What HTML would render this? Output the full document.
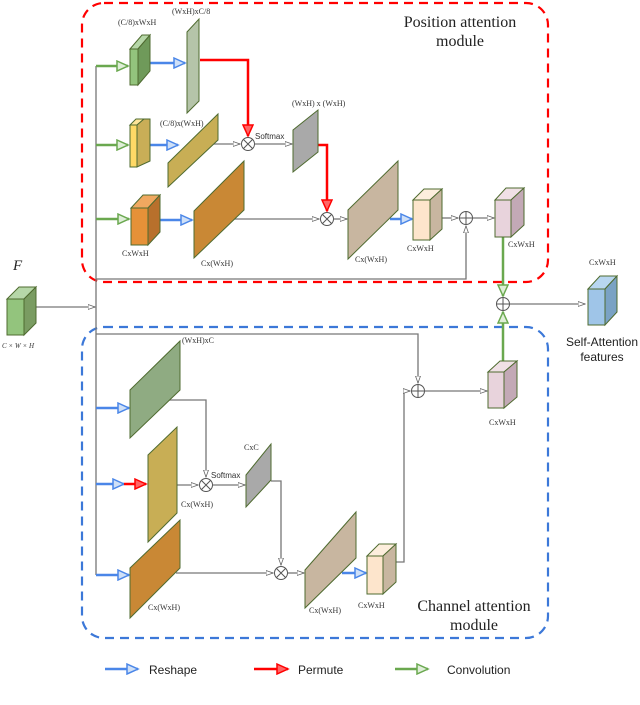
<!DOCTYPE html>
<html><head><meta charset="utf-8"><style>
html,body{margin:0;padding:0;background:#fff;}
svg{display:block;}
.s{font-family:"Liberation Serif",serif;font-size:8px;fill:#333;}
.t{font-family:"Liberation Serif",serif;font-size:16px;fill:#222;}
.a{font-family:"Liberation Sans",sans-serif;}
</style></head><body>
<svg width="640" height="705" viewBox="0 0 640 705" xmlns="http://www.w3.org/2000/svg">
<defs>
<marker id="g" markerWidth="8" markerHeight="6" refX="7" refY="3" orient="auto" markerUnits="userSpaceOnUse"><path d="M0,0.5 L7,3 L0,5.5 Z" fill="#fff" stroke="#666" stroke-width="0.8"/></marker>
<marker id="b" markerWidth="14" markerHeight="12" refX="12" refY="6" orient="auto" markerUnits="userSpaceOnUse"><path d="M1,1 L12,6 L1,11 Z" fill="#cfe0f7" stroke="#4a86e8" stroke-width="1.5"/></marker>
<marker id="r" markerWidth="14" markerHeight="12" refX="12" refY="6" orient="auto" markerUnits="userSpaceOnUse"><path d="M1,1 L12,6 L1,11 Z" fill="#f66" stroke="#f00" stroke-width="1.5"/></marker>
<marker id="gr" markerWidth="14" markerHeight="12" refX="12" refY="6" orient="auto" markerUnits="userSpaceOnUse"><path d="M1,1 L12,6 L1,11 Z" fill="#dfeed8" stroke="#6aa84f" stroke-width="1.5"/></marker>
</defs>

<rect x="82" y="3" width="466" height="279" rx="22" fill="none" stroke="#f00" stroke-width="2.2" stroke-dasharray="9,6"/>
<rect x="82" y="327" width="466" height="311" rx="22" fill="none" stroke="#3c78d8" stroke-width="2.2" stroke-dasharray="9,6"/>

<g stroke="#777" stroke-width="1.3" fill="none">
<line x1="96" y1="66" x2="96" y2="575"/>
<line x1="36" y1="307" x2="95" y2="307" marker-end="url(#g)"/>
<polyline points="96,279 466,279 466,226" marker-end="url(#g)"/>
<polyline points="96,334 418,334 418,383" marker-end="url(#g)"/>
<line x1="213" y1="144" x2="240" y2="144" marker-end="url(#g)"/>
<line x1="255" y1="144" x2="292" y2="144" marker-end="url(#g)"/>
<line x1="234" y1="219" x2="319" y2="219" marker-end="url(#g)"/>
<line x1="334" y1="219" x2="347" y2="219" marker-end="url(#g)"/>
<line x1="442" y1="218" x2="458" y2="218" marker-end="url(#g)"/>
<line x1="473" y1="218" x2="494" y2="218" marker-end="url(#g)"/>
<line x1="510" y1="304" x2="585" y2="304" marker-end="url(#g)"/>
<polyline points="167,400 206,400 206,477" marker-end="url(#g)"/>
<line x1="177" y1="485" x2="198" y2="485" marker-end="url(#g)"/>
<line x1="213" y1="485" x2="245" y2="485" marker-end="url(#g)"/>
<polyline points="271,481 281,481 281,565" marker-end="url(#g)"/>
<line x1="176" y1="573" x2="273" y2="573" marker-end="url(#g)"/>
<line x1="288" y1="573" x2="304" y2="573" marker-end="url(#g)"/>
<polyline points="396,562 404,562 404,391 410,391" marker-end="url(#g)"/>
<line x1="425" y1="391" x2="487" y2="391" marker-end="url(#g)"/>
</g>

<g stroke-width="2.5" fill="none">
<line x1="96" y1="66" x2="128" y2="66" stroke="#6aa84f" marker-end="url(#gr)"/>
<line x1="96" y1="145" x2="128" y2="145" stroke="#6aa84f" marker-end="url(#gr)"/>
<line x1="96" y1="219" x2="129" y2="219" stroke="#6aa84f" marker-end="url(#gr)"/>
<line x1="150" y1="63" x2="185" y2="63" stroke="#4a86e8" marker-end="url(#b)"/>
<line x1="150" y1="145" x2="178" y2="145" stroke="#4a86e8" marker-end="url(#b)"/>
<line x1="160" y1="220" x2="192" y2="220" stroke="#4a86e8" marker-end="url(#b)"/>
<line x1="390" y1="219" x2="412" y2="219" stroke="#4a86e8" marker-end="url(#b)"/>
<polyline points="200,60 248,60 248,136" stroke="#f00" marker-end="url(#r)"/>
<polyline points="318,145 327,145 327,211" stroke="#f00" marker-end="url(#r)"/>
<line x1="503" y1="237" x2="503" y2="296" stroke="#6aa84f" marker-end="url(#gr)"/>
<line x1="503" y1="361" x2="503" y2="312" stroke="#6aa84f" marker-end="url(#gr)"/>
<line x1="96" y1="408" x2="129" y2="408" stroke="#4a86e8" marker-end="url(#b)"/>
<line x1="96" y1="484" x2="124" y2="484" stroke="#4a86e8" marker-end="url(#b)"/>
<line x1="124" y1="484" x2="146" y2="484" stroke="#f00" marker-end="url(#r)"/>
<line x1="96" y1="575" x2="129" y2="575" stroke="#4a86e8" marker-end="url(#b)"/>
<line x1="342" y1="573" x2="366" y2="573" stroke="#4a86e8" marker-end="url(#b)"/>
<line x1="105" y1="669" x2="138" y2="669" stroke="#4a86e8" marker-end="url(#b)"/>
<line x1="254" y1="669" x2="288" y2="669" stroke="#f00" marker-end="url(#r)"/>
<line x1="395" y1="669" x2="428" y2="669" stroke="#6aa84f" marker-end="url(#gr)"/>
</g>

<g stroke="#4f6b30" stroke-width="1">
<polygon points="7,299 19,287 36,287 24,299" fill="#b6d7a8"/><polygon points="24,299 36,287 36,323 24,335" fill="#7a9c62"/><rect x="7" y="299" width="17" height="36" fill="#93c47d"/>
<polygon points="130,49 142,35 150,35 138,49" fill="#b6d7a8"/><polygon points="138,49 150,35 150,71 138,85" fill="#6f9a5a"/><rect x="130" y="49" width="8" height="36" fill="#93c47d"/>
<polygon points="130,125 136,119 144,119 137,125" fill="#ffe599"/><polygon points="137,125 144,119 150,119 150,161 137,167" fill="#c9ae57"/><rect x="130" y="125" width="7" height="42" fill="#ffd966"/>
<polygon points="131,208 143,195 160,195 148,208" fill="#f0a860"/><polygon points="148,208 160,195 160,232 148,245" fill="#b8702c"/><rect x="131" y="208" width="17" height="37" fill="#e69138"/>
<polygon points="413,200 424,189 442,189 430,200" fill="#fdeedd"/><polygon points="430,200 442,189 442,229 430,240" fill="#c8b6a0"/><rect x="413" y="200" width="17" height="40" fill="#fde5cc"/>
<polygon points="495,200 506,188 524,188 511,200" fill="#f0e0e6"/><polygon points="511,200 524,188 524,225 511,237" fill="#c3a9b6"/><rect x="495" y="200" width="16" height="37" fill="#e8d3dc"/>
<polygon points="588,289 600,276 617,276 605,289" fill="#b8d6f0"/><polygon points="605,289 617,276 617,312 605,325" fill="#7aa2c4"/><rect x="588" y="289" width="17" height="36" fill="#9fc5e8"/>
<polygon points="367,556 379,544 396,544 383,556" fill="#fdeedd"/><polygon points="383,556 396,544 396,582 383,594" fill="#c8b6a0"/><rect x="367" y="556" width="16" height="38" fill="#fde5cc"/>
<polygon points="488,372 500,361 517,361 504,372" fill="#f0e0e6"/><polygon points="504,372 517,361 517,397 504,408" fill="#c3a9b6"/><rect x="488" y="372" width="16" height="36" fill="#e8d3dc"/>

<polygon points="187,32 199,19 199,101 187,113" fill="#b5c4a9"/>
<polygon points="168,163 218,114 218,140 168,187" fill="#c8ae55"/>
<polygon points="293,130 318,110 318,152 293,172" fill="#a9a9a9"/>
<polygon points="194,211 244,161 244,210 194,258" fill="#c98835"/>
<polygon points="348,210 398,161 398,210 348,259" fill="#c8b6a0"/>
<polygon points="130,390 180,341 180,390 130,438" fill="#8fab82"/>
<polygon points="148,455 177,427 177,513 148,542" fill="#c8ae55"/>
<polygon points="246,475 271,444 271,480 246,507" fill="#a9a9a9"/>
<polygon points="130,568 180,520 180,568 130,618" fill="#c98835"/>
<polygon points="305,570 356,512 356,558 305,608" fill="#c8b6a0"/>
</g>

<g stroke="#555" stroke-width="1" fill="#fff">
<circle cx="248" cy="144" r="6.5"/><path d="M243.5,139.5 L252.5,148.5 M252.5,139.5 L243.5,148.5"/>
<circle cx="327" cy="219" r="6.5"/><path d="M322.5,214.5 L331.5,223.5 M331.5,214.5 L322.5,223.5"/>
<circle cx="466" cy="218" r="6.5"/><path d="M459.5,218 H472.5 M466,211.5 V224.5"/>
<circle cx="503" cy="304" r="6.5"/><path d="M496.5,304 H509.5 M503,297.5 V310.5"/>
<circle cx="418" cy="391" r="6.5"/><path d="M411.5,391 H424.5 M418,384.5 V397.5"/>
<circle cx="206" cy="485" r="6.5"/><path d="M201.5,480.5 L210.5,489.5 M210.5,480.5 L201.5,489.5"/>
<circle cx="281" cy="573" r="6.5"/><path d="M276.5,568.5 L285.5,577.5 M285.5,568.5 L276.5,577.5"/>
</g>

<text class="s" x="118" y="25">(C/8)xWxH</text>
<text class="s" x="172" y="14">(WxH)xC/8</text>
<text class="s" x="160" y="126">(C/8)x(WxH)</text>
<text class="s a" x="255" y="139" font-size="7.5">Softmax</text>
<text class="s" x="292" y="106">(WxH) x (WxH)</text>
<text class="s" x="122" y="256">CxWxH</text>
<text class="s" x="201" y="266">Cx(WxH)</text>
<text class="s" x="355" y="262">Cx(WxH)</text>
<text class="s" x="407" y="251">CxWxH</text>
<text class="s" x="508" y="247">CxWxH</text>
<text class="s" x="589" y="265">CxWxH</text>
<text class="a" x="602" y="346" font-size="12" text-anchor="middle" fill="#222">Self-Attention</text>
<text class="a" x="602" y="361" font-size="12" text-anchor="middle" fill="#222">features</text>
<text x="13" y="270" font-family="Liberation Serif,serif" font-style="italic" font-size="15" fill="#222">F</text>
<text x="2" y="348" font-family="Liberation Serif,serif" font-style="italic" font-size="7" fill="#333">C × W × H</text>
<text class="s" x="182" y="343">(WxH)xC</text>
<text class="s a" x="211" y="478" font-size="7.5">Softmax</text>
<text class="s" x="181" y="507">Cx(WxH)</text>
<text class="s" x="244" y="450">CxC</text>
<text class="s" x="148" y="610">Cx(WxH)</text>
<text class="s" x="309" y="613">Cx(WxH)</text>
<text class="s" x="358" y="608">CxWxH</text>
<text class="s" x="489" y="425">CxWxH</text>
<text class="t" x="460" y="27" text-anchor="middle">Position attention</text>
<text class="t" x="460" y="46" text-anchor="middle">module</text>
<text class="t" x="474" y="611" text-anchor="middle">Channel attention</text>
<text class="t" x="474" y="630" text-anchor="middle">module</text>
<text class="a" x="149" y="674" font-size="12" fill="#222">Reshape</text>
<text class="a" x="298" y="674" font-size="12" fill="#222">Permute</text>
<text class="a" x="447" y="674" font-size="12" fill="#222">Convolution</text>
</svg>
</body></html>
